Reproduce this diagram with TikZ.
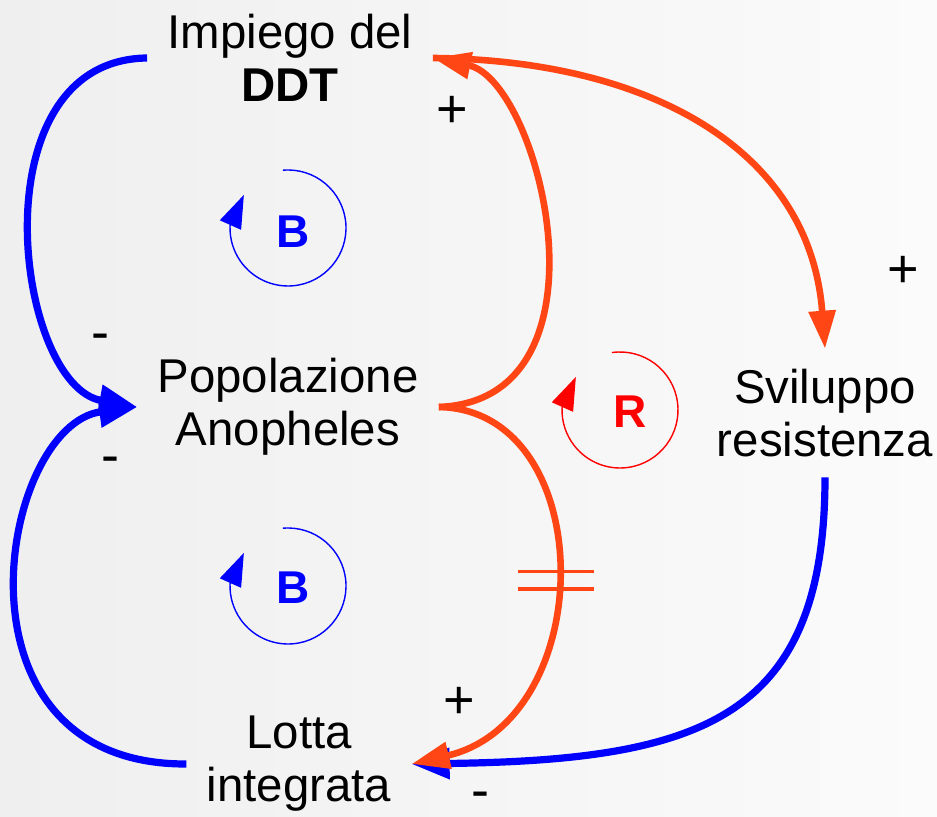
\documentclass[tikz,border=0pt]{standalone}
\usepackage{fontspec}
\setmainfont{Liberation Sans}
\usetikzlibrary{arrows.meta}
\definecolor{linkBlue}{RGB}{0,0,255}
\definecolor{linkOrange}{RGB}{255,70,20}
\definecolor{loopRed}{RGB}{255,0,0}
\definecolor{bgLeft}{RGB}{239,239,239}
\definecolor{bgRight}{RGB}{251,251,251}

\begin{document}
\begin{tikzpicture}[
    x=0.5pt,
    y=-0.5pt,
    quantity/.style={
        align=center,
        inner sep=10pt,
        font=\fontsize{23.7}{26.5}\selectfont
    },
    negative link/.style={
        linkBlue,
        line width=3.6pt,
        -{Triangle[length=19pt,width=15pt]}
    },
    positive link/.style={
        linkOrange,
        line width=3.3pt,
        -{Triangle[length=19pt,width=13pt]}
    },
    polarity/.style={
        font=\fontsize{27}{29}\selectfont
    },
    loop label/.style={
        font=\fontsize{23}{25}\selectfont\bfseries
    },
    loop arrow/.style={
        line width=0.7pt,
        -{Triangle[length=16.5pt,width=11.5pt]}
    }
]

%------------------------------------------------
% Background
%------------------------------------------------
\shade[left color=bgLeft, right color=bgRight] (0,0) rectangle (937,817);
\useasboundingbox (0,0) rectangle (937,817);

%------------------------------------------------
% Variables
%------------------------------------------------
\node[quantity] (ddt) at (290,58) {Impiego del\\\textbf{DDT}};
\node[quantity] (popolazione) at (288,407) {Popolazione\\Anopheles};
\node[quantity] (sviluppo) at (825,413) {Sviluppo\\resistenza};
\node[quantity] (lotta) at (299,764) {Lotta\\integrata};

%------------------------------------------------
% Causal links
%------------------------------------------------
\draw[negative link] (ddt.west)
    .. controls (-25,60) and (15,385) .. (popolazione.west);

\draw[negative link] (lotta.west)
    .. controls (-60,765) and (0,425) .. (popolazione.west);

\draw[positive link] (popolazione.east)
    .. controls (620,400) and (540,80) .. (ddt.east);

\draw[positive link] (ddt.east)
    .. controls (650,60) and (810,150) .. (sviluppo.north);

\draw[negative link] (sviluppo.south)
    .. controls (825,720) and (700,760) .. (lotta.east);

\draw[positive link] (popolazione.east)
    .. controls (600,410) and (600,720) .. coordinate[pos=0.52] (delay) (lotta.east);

% Delay mark
\draw[linkOrange, line width=1.8pt] ([xshift=-19pt,yshift=4.3pt]delay) -- ++(38pt,0pt);
\draw[linkOrange, line width=1.8pt] ([xshift=-19pt,yshift=-4.3pt]delay) -- ++(38pt,0pt);

%------------------------------------------------
% Polarities
%------------------------------------------------
\node[polarity] (plusddt) at (452,112) {+};
\node[polarity] (plusres) at (903,272) {+};
\node[polarity] (minuspopa) at (100,342) {-};
\node[polarity] (minuspopb) at (110,465) {-};
\node[polarity] (pluslotta) at (459,703) {+};
\node[polarity] (minuslotta) at (480,800) {-};

%------------------------------------------------
% Loop markers
%------------------------------------------------
\coordinate (loopone) at (288,228);
\node[linkBlue, loop label] (bone) at (293,232) {B};
\draw[linkBlue, loop arrow] ([shift={(95:29pt)}]loopone)
    arc[start angle=95, end angle=-182, radius=29pt] -- ++(66:17pt);

\coordinate (looptwo) at (288,586);
\node[linkBlue, loop label] (btwo) at (293,588) {B};
\draw[linkBlue, loop arrow] ([shift={(95:29pt)}]looptwo)
    arc[start angle=95, end angle=-182, radius=29pt] -- ++(66:17pt);

\coordinate (loopthree) at (620,410);
\node[loopRed, loop label] (rone) at (630,412) {R};
\draw[loopRed, loop arrow] ([shift={(98:29pt)}]loopthree)
    arc[start angle=98, end angle=-182, radius=29pt] -- ++(66:17pt);

\end{tikzpicture}
\end{document}
